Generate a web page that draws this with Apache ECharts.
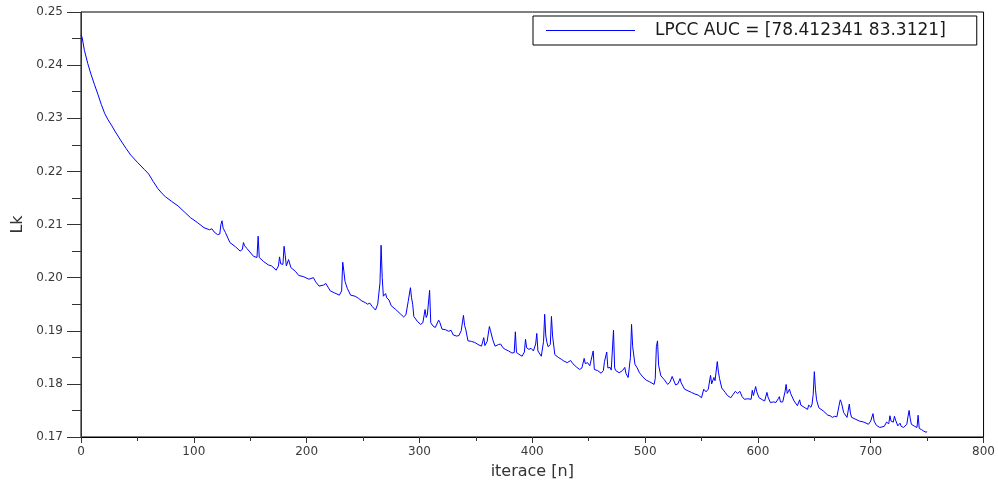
<!DOCTYPE html>
<html>
<head>
<meta charset="utf-8">
<script src="https://cdn.jsdelivr.net/npm/echarts@6/dist/echarts.min.js"></script>
<style>
html,body{margin:0;padding:0;background:#fff;}
#chart{width:998px;height:485px;}
</style>
</head>
<body>
<div id="chart"></div>
<script>
const seriesName = 'LPCC AUC = [78.412341 83.3121]';
const xTitle = 'iterace [n]';
const yTitle = 'Lk';

const iter = [0,1,3,6,9,12,15,18,21,24,27,30,35,40,44,50,56,57,60,64,68,72,75,80,86,92,97,103,109,114,116,118,121,123,124,125,126,127,128,132,137,141,143,144,145,147,149,153,156,157,158,162,166,169,173,175,176,177,179,180,181,182,184,186,190,193,197,202,206,208,211,215,217,219,221,225,229,231,232,233,234,236,239,243,246,249,252,254,256,258,261,263,265,266,267,268,270,271,273,275,279,283,286,288,290,292,293,294,295,298,301,303,305,306,307,309,310,312,314,317,318,320,323,326,328,330,333,335,337,339,340,341,343,346,349,352,355,357,358,360,362,363,365,367,370,372,374,376,379,382,384,385,386,388,391,393,394,395,397,399,401,403,404,405,408,410,411,412,413,414,416,417,418,420,423,426,428,431,434,436,439,442,444,446,447,449,451,452,454,455,458,461,463,464,466,467,469,470,472,473,474,477,480,482,483,485,487,488,489,491,493,495,498,501,504,508,509,510,511,512,514,517,520,522,524,525,527,529,531,532,535,538,541,544,547,550,551,552,554,556,558,559,561,562,564,565,566,568,571,573,576,578,580,582,584,586,588,591,594,595,596,598,599,601,604,606,608,609,611,614,616,618,619,620,622,624,625,626,628,629,632,635,637,638,641,644,645,647,648,649,650,651,652,654,658,662,664,666,668,670,672,673,674,676,679,681,682,683,686,690,694,698,700,701,702,703,705,708,712,714,715,716,717,718,720,721,722,724,726,727,729,732,733,734,735,736,739,741,742,743,745,747,749,750];

const lk = [0.2457,0.2452,0.2428,0.2403,0.2382,0.2363,0.2345,0.2326,0.2309,0.2297,0.2287,0.2276,0.2259,0.2243,0.2231,0.2217,0.2204,0.2206,0.2195,0.2181,0.2168,0.2158,0.2152,0.2144,0.2135,0.2123,0.2113,0.2104,0.2094,0.2090,0.2092,0.2086,0.2081,0.2082,0.2100,0.2107,0.2093,0.2096,0.2085,0.2066,0.2058,0.2050,0.2053,0.2066,0.2060,0.2055,0.2050,0.2040,0.2038,0.2078,0.2038,0.2030,0.2024,0.2022,0.2014,0.2022,0.2039,0.2026,0.2025,0.2059,0.2042,0.2022,0.2034,0.2019,0.2012,0.2004,0.2002,0.1997,0.2000,0.1992,0.1984,0.1986,0.1989,0.1982,0.1975,0.1971,0.1967,0.1975,0.2029,0.2012,0.1993,0.1980,0.1967,0.1965,0.1961,0.1956,0.1953,0.1950,0.1952,0.1946,0.1939,0.1950,0.1990,0.2061,0.2000,0.1965,0.1970,0.1962,0.1958,0.1947,0.1940,0.1932,0.1926,0.1930,0.1955,0.1981,0.1962,0.1950,0.1927,0.1918,0.1912,0.1915,0.1940,0.1925,0.1930,0.1976,0.1915,0.1909,0.1906,0.1920,0.1916,0.1903,0.1902,0.1899,0.1901,0.1892,0.1890,0.1891,0.1900,0.1929,0.1910,0.1903,0.1881,0.1880,0.1878,0.1874,0.1871,0.1887,0.1872,0.1880,0.1908,0.1900,0.1883,0.1871,0.1874,0.1875,0.1868,0.1865,0.1862,0.1858,0.1859,0.1898,0.1859,0.1856,0.1852,0.1860,0.1884,0.1868,0.1865,0.1867,0.1862,0.1875,0.1895,0.1862,0.1852,0.1880,0.1931,0.1890,0.1878,0.1870,0.1874,0.1927,0.1890,0.1855,0.1850,0.1846,0.1843,0.1840,0.1844,0.1838,0.1832,0.1827,0.1830,0.1848,0.1838,0.1840,0.1834,0.1836,0.1862,0.1827,0.1825,0.1820,0.1825,0.1842,0.1860,0.1830,0.1831,0.1826,0.1901,0.1830,0.1825,0.1821,0.1825,0.1831,0.1820,0.1812,0.1850,0.1912,0.1870,0.1837,0.1830,0.1821,0.1813,0.1807,0.1804,0.1799,0.1810,0.1870,0.1881,0.1835,0.1815,0.1808,0.1799,0.1803,0.1814,0.1812,0.1798,0.1800,0.1810,0.1802,0.1790,0.1787,0.1784,0.1781,0.1779,0.1774,0.1773,0.1790,0.1785,0.1790,0.1816,0.1800,0.1812,0.1806,0.1842,0.1822,0.1810,0.1792,0.1784,0.1778,0.1774,0.1780,0.1786,0.1782,0.1786,0.1776,0.1771,0.1772,0.1771,0.1788,0.1778,0.1795,0.1785,0.1774,0.1770,0.1768,0.1784,0.1775,0.1765,0.1766,0.1765,0.1772,0.1776,0.1766,0.1766,0.1785,0.1799,0.1782,0.1790,0.1782,0.1768,0.1759,0.1770,0.1760,0.1756,0.1752,0.1760,0.1756,0.1762,0.1780,0.1823,0.1790,0.1770,0.1755,0.1749,0.1741,0.1740,0.1737,0.1739,0.1738,0.1760,0.1770,0.1765,0.1746,0.1737,0.1762,0.1745,0.1737,0.1734,0.1730,0.1728,0.1724,0.1730,0.1733,0.1744,0.1730,0.1722,0.1718,0.1720,0.1728,0.1730,0.1725,0.1740,0.1730,0.1728,0.1739,0.1732,0.1721,0.1726,0.1720,0.1718,0.1724,0.1738,0.1750,0.1735,0.1724,0.1720,0.1718,0.1741,0.1716,0.1714,0.1711,0.1709,0.1710];

const xTicks = [0,100,200,300,400,500,600,700,800];
const yTicks = [0.17,0.18,0.19,0.20,0.21,0.22,0.23,0.24,0.25];

const points = iter.map((n, i) => [n, lk[i]]);
const font = 'DejaVu Sans, sans-serif';

const chart = echarts.init(document.getElementById('chart'), null, {renderer: 'canvas'});
chart.setOption({
  animation: false,
  backgroundColor: '#ffffff',
  grid: {left: 81, right: 11, top: 12, bottom: 48, show: true, borderColor: '#000', borderWidth: 1, backgroundColor: 'transparent'},
  legend: {
    show: true,
    left: 533, top: 16,
    padding: [6, 31, 6, 13],
    borderColor: '#000', borderWidth: 1,
    backgroundColor: '#fff',
    icon: 'rect',
    itemWidth: 89, itemHeight: 1,
    textStyle: {fontFamily: font, fontSize: 17, color: '#1a1a1a', padding: [0, 0, 0, 15]},
    data: [seriesName]
  },
  xAxis: {
    type: 'value', min: xTicks[0], max: xTicks[xTicks.length - 1], interval: 100,
    name: xTitle, nameLocation: 'middle', nameGap: 27,
    nameTextStyle: {fontFamily: font, fontSize: 16, color: '#333'},
    axisLine: {show: true, onZero: false, lineStyle: {color: '#000', width: 1}},
    axisTick: {show: true, inside: false, length: 6, lineStyle: {color: '#333'}},
    minorTick: {show: true, splitNumber: 2, length: 4, lineStyle: {color: '#333'}},
    axisLabel: {fontFamily: font, fontSize: 12, color: '#3a3a3a', margin: 9},
    splitLine: {show: false}
  },
  yAxis: {
    type: 'value', min: yTicks[0], max: yTicks[yTicks.length - 1], interval: 0.01,
    name: yTitle, nameLocation: 'middle', nameGap: 55, nameRotate: 90,
    nameTextStyle: {fontFamily: font, fontSize: 16, color: '#333'},
    axisLine: {show: true, onZero: false, lineStyle: {color: '#333', width: 1}},
    axisTick: {show: true, inside: false, length: 14, lineStyle: {color: '#333'}},
    minorTick: {show: true, splitNumber: 2, length: 9, lineStyle: {color: '#333'}},
    axisLabel: {fontFamily: font, fontSize: 12, color: '#3a3a3a', margin: 18,
      formatter: v => v.toFixed(2)},
    splitLine: {show: false}
  },
  series: [{
    name: seriesName,
    type: 'line',
    data: points,
    showSymbol: false,
    symbol: 'none',
    lineStyle: {color: '#0000ff', width: 1},
    itemStyle: {color: '#0000ff'},
    clip: true
  }]
});
</script>
</body>
</html>
